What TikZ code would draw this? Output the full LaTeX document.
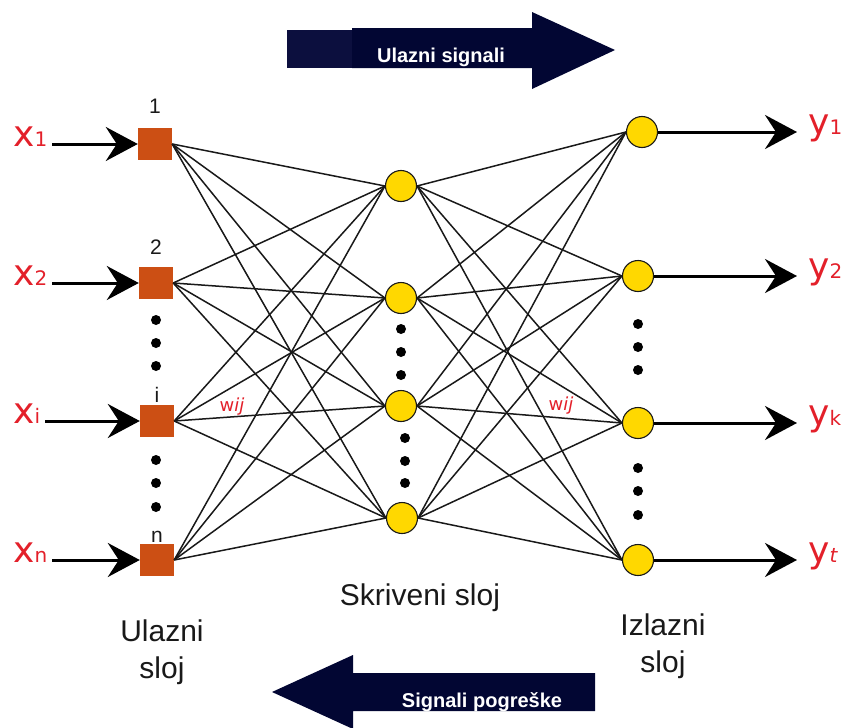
\documentclass[tikz,border=0pt]{standalone}
\usepackage{fontspec}
\setmainfont{Liberation Sans}
\newfontfamily\siglabfont{DejaVu Sans}
\usetikzlibrary{arrows.meta,positioning}

\definecolor{inorange}{HTML}{CC4F14}
\definecolor{hidyellow}{HTML}{FFD800}
\definecolor{sigred}{HTML}{E3202A}
\definecolor{bignavy}{HTML}{020633}
\definecolor{lightnavy}{HTML}{0C0F3E}

% red signal label: letter with a small index on the baseline
\newcommand{\siglab}[2]{#1{\fontsize{20}{20}\selectfont #2}}

\tikzset{
	inbox/.style={fill=inorange, minimum width=34pt, minimum height=32pt, inner sep=0pt},
	neuron/.style={circle, fill=hidyellow, draw=black!90, line width=1.1pt, minimum size=31pt, inner sep=0pt},
	dotnode/.style={circle, fill=black, minimum size=10pt, inner sep=0pt},
	link/.style={line width=1.5pt, black!90},
	feed/.style={line width=3pt, -{Stealth[length=32pt,width=34pt,inset=11pt]}},
	siglabel/.style={text=sigred, font=\siglabfont\fontsize{36}{36}\selectfont, inner sep=0pt},
	weightlab/.style={text=sigred, font=\siglabfont\fontsize{18}{18}\selectfont, inner sep=0pt},
	numlab/.style={font=\fontsize{21}{21}\selectfont, text=black!90, inner sep=0pt, anchor=base},
	layerlab/.style={font=\fontsize{30}{37}\selectfont, text=black!90, inner sep=0pt, align=center},
	arrowtext/.style={text=white, font=\bfseries\fontsize{20}{20}\selectfont, inner sep=0pt}
}

\begin{document}
\begin{tikzpicture}[x=1pt,y=-1pt]
	\useasboundingbox (0,0) rectangle (841,728);
	
	% Direction arrows at top and bottom
	\fill[lightnavy] (287,30) rectangle (353,68);
	\fill[bignavy] (352,28) -- (532,28) -- (532,12) -- (615,50) -- (532,89) -- (532,68) -- (352,68) -- cycle;
	\node[arrowtext] (forward) at (441,57) {Ulazni signali};
	\fill[bignavy] (272,692) -- (353,655) -- (353,673) -- (595,673) -- (595,711) -- (353,711) -- (353,729) -- cycle;
	\node[arrowtext] (backward) at (482,702) {Signali pogreške};
	
	% Input layer
	\foreach \n/\x/\y in {1/155/144, 2/156/283, 3/157/421, 4/157/560}
	\node[inbox] (in\n) at (\x,\y) {};
	\node[numlab] (num1) at (155,113) {1};
	\node[numlab] (num2) at (156,254) {2};
	\node[numlab] (num3) at (157,402) {i};
	\node[numlab] (num4) at (157,542) {n};
	
	% Hidden layer
	\foreach \n/\x/\y in {1/401/186, 2/401/298, 3/401/406, 4/402/518}
	\node[neuron] (hid\n) at (\x,\y) {};
	
	% Output layer
	\foreach \n/\x/\y in {1/642/132, 2/638/276, 3/638/423, 4/638/560}
	\node[neuron] (out\n) at (\x,\y) {};
	
	% Dots for the skipped neurons
	\foreach \y in {320,343,366,460,483,507}
	\node[dotnode] (indot\y) at (156,\y) {};
	\foreach \y in {329,352,375}
	\node[dotnode] (hiddot\y) at (401,\y) {};
	\foreach \y in {438,461,483}
	\node[dotnode] (hiddot\y) at (405,\y) {};
	\foreach \y in {324,347,370,468,491,515}
	\node[dotnode] (outdot\y) at (638,\y) {};
	
	% Weights: every neuron joined to every neuron of the next layer
	\foreach \i in {1,...,4}
	\foreach \j in {1,...,4}
	{
		\draw[link] (in\i.east) -- (hid\j.west);
		\draw[link] (hid\i.east) -- (out\j.west);
	}
	\node[weightlab] (w1) at (232,407) {w\textit{ij}};
	\node[weightlab] (w2) at (561,406) {w\textit{ij}};
	
	% Input signals
	\node[siglabel, anchor=mid west] (x1) at (13,144) {\siglab{x}{1}};
	\node[siglabel, anchor=mid west] (x2) at (13,283) {\siglab{x}{2}};
	\node[siglabel, anchor=mid west] (x3) at (13,421) {\siglab{x}{i}};
	\node[siglabel, anchor=mid west] (x4) at (13,560) {\siglab{x}{n}};
	\foreach \n in {1,...,4}
	\draw[feed, shorten <=5pt] (x\n.mid east) -- (in\n.west);
	
	% Output signals
	\node[siglabel, anchor=mid west] (y1) at (808,132) {\siglab{y}{1}};
	\node[siglabel, anchor=mid west] (y2) at (808,276) {\siglab{y}{2}};
	\node[siglabel, anchor=mid west] (y3) at (808,423) {\siglab{y}{k}};
	\node[siglabel, anchor=mid west] (y4) at (808,560) {\siglab{y}{\itshape t}};
	\foreach \n in {1,...,4}
	\draw[feed, shorten >=11pt] (out\n.east) -- (y\n.mid west);
	
	% Layer names
	\node[layerlab, anchor=north] (inlayer) at (162,620) {Ulazni\\sloj};
	\node[layerlab, anchor=base] (hidlayer) at (420,605) {Skriveni sloj};
	\node[layerlab, anchor=north] (outlayer) at (663,614) {Izlazni\\sloj};
\end{tikzpicture}
\end{document}
